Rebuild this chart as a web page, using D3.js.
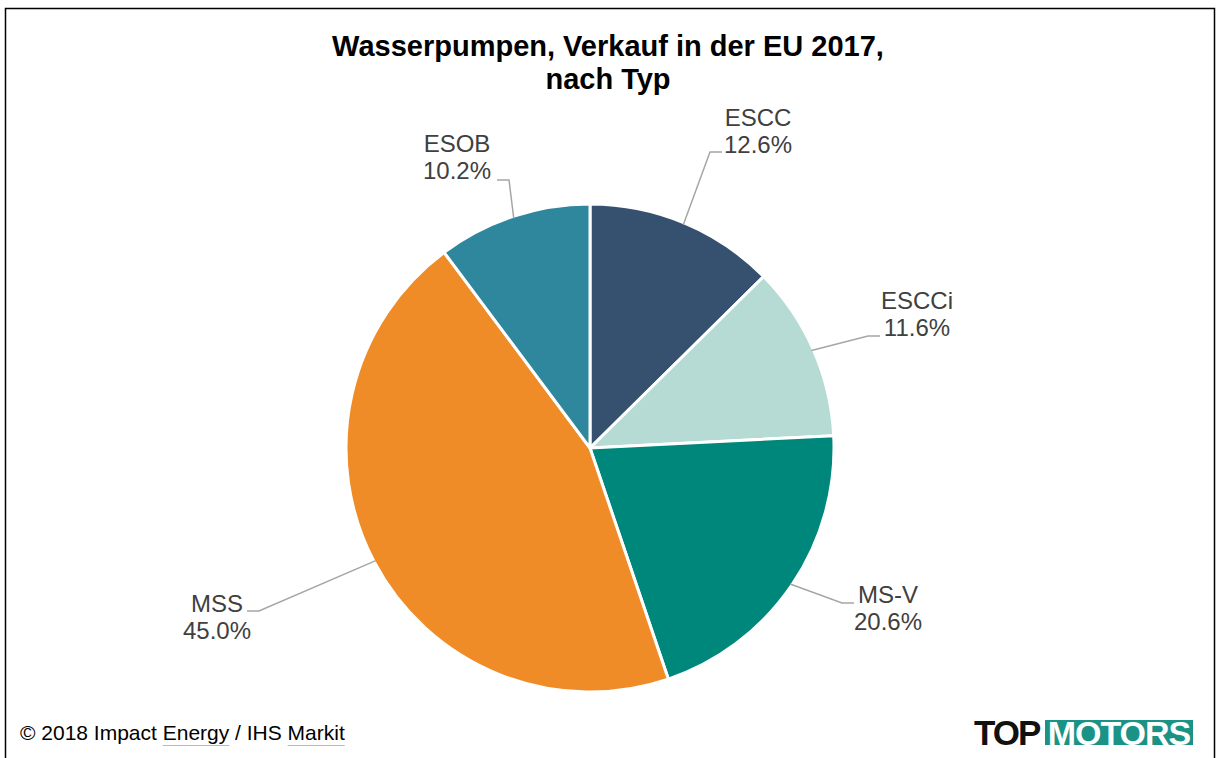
<!DOCTYPE html>
<meta charset="utf-8">
<script src="https://d3js.org/d3.v7.min.js"></script>
<style>
  body { margin: 0; background: #fff; }
  text { font-family: "Liberation Sans", Arial, sans-serif; }
  .title { font-size: 29px; font-weight: bold; fill: #000; }
  .lbl { font-size: 24px; fill: #404040; }
  .src { font-size: 21px; fill: #000; }
</style>
<div id="chart"></div>
<script>
// data
var categories = ["ESCC", "ESCCi", "MS-V", "MSS", "ESOB"];
var shares = [12.6, 11.6, 20.6, 45.0, 10.2];
var colors = ["#36506f", "#b5dbd4", "#00877c", "#f08c28", "#2f879e"];

// label placement relative to pie centre (text centre / first baseline, leader end)
var labelLayout = [
  {tx: 168, ty: -322, ex: 132, ey: -296, dir: 1},
  {tx: 327, ty: -139, ex: 290, ey: -112, dir: 1},
  {tx: 298, ty: 155, ex: 264, ey: 155, dir: 1},
  {tx: -373, ty: 164, ex: -343, ey: 163, dir: -1},
  {tx: -133, ty: -296, ex: -93, ey: -268, dir: -1}
];

var width = 1216, height = 758;
var cx = 590, cy = 448, radius = 244;

var svg = d3.select("#chart").append("svg")
  .attr("width", width)
  .attr("height", height);

// frame
svg.append("path")
  .attr("d", "M5.5," + height + "V8.5H1214.5V" + height)
  .attr("fill", "none")
  .attr("stroke", "#000")
  .attr("stroke-width", 1.5);

// title
svg.append("text").attr("class", "title")
  .attr("x", 608).attr("y", 56).attr("text-anchor", "middle")
  .text("Wasserpumpen, Verkauf in der EU 2017,");
svg.append("text").attr("class", "title")
  .attr("x", 608).attr("y", 89).attr("text-anchor", "middle")
  .text("nach Typ");

var data = categories.map(function(c, i) { return {name: c, value: shares[i], color: colors[i], lay: labelLayout[i]}; });

var pie = d3.pie().sort(null).value(function(d) { return d.value; });
var arcs = pie(data);

var arc = d3.arc().innerRadius(0).outerRadius(radius);

var g = svg.append("g").attr("transform", "translate(" + cx + "," + cy + ")");

g.selectAll("path.slice")
  .data(arcs)
  .enter().append("path")
  .attr("class", "slice")
  .attr("d", arc)
  .attr("fill", function(d) { return d.data.color; })
  .attr("stroke", "#fff")
  .attr("stroke-width", 3)
  .attr("stroke-linejoin", "round");

// leader lines
g.selectAll("path.leader")
  .data(arcs)
  .enter().append("path")
  .attr("class", "leader")
  .attr("fill", "none")
  .attr("stroke", "#a6a6a6")
  .attr("stroke-width", 1.5)
  .attr("d", function(d) {
    var a = (d.startAngle + d.endAngle) / 2;
    var r = radius - 2;
    var p0 = [r * Math.sin(a), -r * Math.cos(a)];
    var L = d.data.lay;
    var elbow = [L.ex - L.dir * 12, L.ey];
    return "M" + p0 + "L" + elbow + "L" + [L.ex, L.ey];
  });

// labels
var labels = g.selectAll("text.lbl")
  .data(arcs)
  .enter().append("text")
  .attr("class", "lbl")
  .attr("text-anchor", "middle");
labels.append("tspan")
  .attr("x", function(d) { return d.data.lay.tx; })
  .attr("y", function(d) { return d.data.lay.ty; })
  .text(function(d) { return d.data.name; });
labels.append("tspan")
  .attr("x", function(d) { return d.data.lay.tx; })
  .attr("y", function(d) { return d.data.lay.ty + 27; })
  .text(function(d) { return d.data.value.toFixed(1) + "%"; });

// source
var srcText = "© 2018 Impact Energy / IHS Markit";
var src = svg.append("text").attr("class", "src")
  .attr("x", 20).attr("y", 740)
  .text(srcText);
// spell-check squiggles under "Energy" and "Markit"
["Energy", "Markit"].forEach(function(w) {
  var i = srcText.indexOf(w);
  var x0 = 20 + src.node().getSubStringLength(0, i);
  var wd = src.node().getSubStringLength(i, w.length);
  svg.append("line")
    .attr("x1", x0).attr("x2", x0 + wd).attr("y1", 745.5).attr("y2", 745.5)
    .attr("stroke", "#f4a0a0").attr("stroke-width", 1);
});

// logo
var logo = svg.append("g").attr("transform", "translate(974,745)");
logo.append("text")
  .attr("x", 0).attr("y", 0)
  .style("font-size", "35px").style("font-weight", "bold")
  .style("letter-spacing", "-2px")
  .attr("fill", "#111")
  .text("TOP");
logo.append("rect")
  .attr("x", 71).attr("y", -25).attr("width", 148).attr("height", 25)
  .attr("fill", "#1a9286");
logo.append("text")
  .attr("x", 145).attr("y", 0).attr("text-anchor", "middle")
  .style("font-size", "34px").style("font-weight", "bold")
  .style("letter-spacing", "-1px")
  .attr("fill", "#fff")
  .text("MOTORS");
</script>
